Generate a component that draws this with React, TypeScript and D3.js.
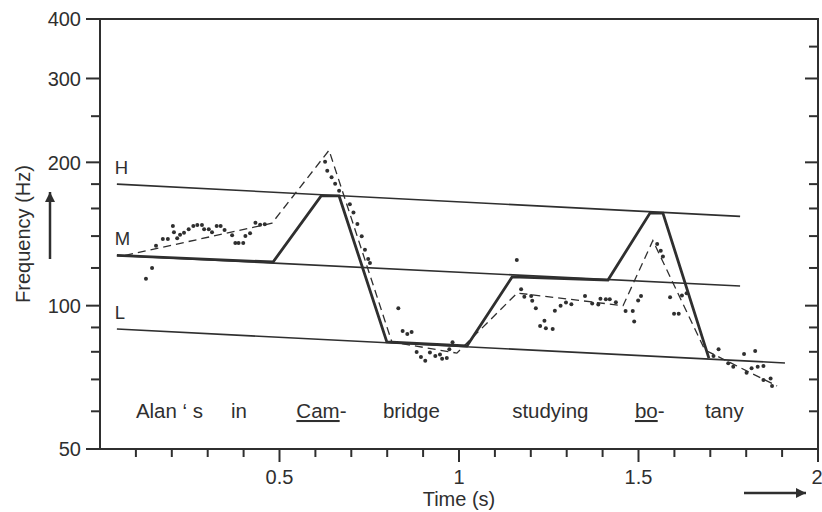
import { useEffect, useRef } from "react";
import * as d3 from "d3";

// register lines (H / M / L), start and end frequency in Hz
const registerNames = ["H", "M", "L"];
const registerStartT = [0.047, 0.047, 0.047];
const registerEndT = [1.783, 1.783, 1.908];
const registerStartF = [180, 127.5, 89.3];
const registerEndF = [154, 110, 75.8];

// stylised contour (bold)
const contourT = [0.047, 0.482, 0.616, 0.666, 0.799, 1.022, 1.148, 1.415, 1.532, 1.568, 1.696];
const contourF = [127.5, 123.5, 170, 170, 83.9, 82.3, 114.9, 113.2, 156.5, 156.5, 77.6];

// smoothed contour (dashed)
const smoothT = [0.07, 0.479, 0.638, 0.813, 0.994, 1.162, 1.457, 1.54, 1.685, 1.886];
const smoothF = [127.5, 149, 212, 83.9, 79.5, 106.3, 100, 137, 80.7, 67.8];

// measured F0 points
const dotT = [
  0.128, 0.145, 0.156, 0.175, 0.189, 0.203, 0.206, 0.215, 0.223, 0.234, 0.247, 0.26, 0.271, 0.284,
  0.29, 0.303, 0.312, 0.325, 0.336, 0.347, 0.368, 0.377, 0.386, 0.399, 0.405, 0.418, 0.433, 0.446,
  0.459, 0.627, 0.633, 0.645, 0.655, 0.666, 0.696, 0.706, 0.717, 0.729, 0.738, 0.747, 0.752, 0.831,
  0.843, 0.856, 0.868, 0.882, 0.894, 0.906, 0.919, 0.934, 0.947, 0.953, 0.966, 0.973, 0.982, 1.161,
  1.173, 1.182, 1.201, 1.204, 1.214, 1.238, 1.226, 1.242, 1.261, 1.267, 1.283, 1.298, 1.313, 1.351,
  1.371, 1.388, 1.394, 1.409, 1.42, 1.437, 1.464, 1.484, 1.488, 1.499, 1.507, 1.552, 1.562, 1.568,
  1.588, 1.599, 1.612, 1.621, 1.634, 1.709, 1.723, 1.75, 1.764, 1.794, 1.801, 1.815, 1.825, 1.832,
  1.848, 1.848, 1.868, 1.872,
];
const dotF = [
  113.9, 120, 133.6, 138, 138, 147, 142.6, 138.5, 140.9, 142.3, 144.7, 147, 147.7, 147.7, 144.7,
  144.7, 142.6, 147, 147, 144.2, 140.5, 135.4, 135.4, 135.4, 140.1, 141.9, 149.4, 147.9, 148.2,
  200.6, 192.1, 186.1, 180.3, 174.4, 163.3, 157, 148.4, 139.9, 131.1, 125.3, 122.9, 98.7, 88.5,
  87.2, 88, 79.9, 78, 76.6, 79.7, 78.4, 79, 77.4, 77.6, 81, 83.8, 124.7, 108.2, 104.4, 104.8,
  102.4, 98.7, 93, 90.6, 89.6, 89.3, 97.6, 100, 101.6, 100.7, 104.8, 101.1, 100.6, 103.4, 103.1,
  103.1, 101.7, 97.4, 97.4, 92.6, 102.5, 104.8, 134.7, 130.4, 126.9, 104.1, 96.2, 96.2, 105.1,
  106.2, 78.4, 81, 75.7, 74.4, 79.2, 72.3, 73.9, 80.3, 74.4, 74.7, 69.8, 70.3, 67.8,
];

// syllables under the contour (start time, text, underlined part, rest)
const syllableT = [0.1, 0.365, 0.547, 0.788, 1.148, 1.49, 1.685];
const syllableMain = ["Alan \u2018 s", "in", "Cam", "bridge", "studying", "bo", "tany"];
const syllableUnderlined = [false, false, true, false, false, true, false];
const syllableTail = ["", "", "-", "", "", "-", ""];

const yLabelTicks = [50, 100, 200, 300, 400];
const yMinorLeft = [60, 70, 80, 90, 120, 140, 160, 180, 250];
const yMajorRight = [100, 200, 300];
const yMinorRight = [60, 70, 80, 90, 120, 140, 160, 180, 250, 350];
const xMinorTicks = [0.1, 0.2, 0.3, 0.4, 0.6, 0.7, 0.8, 0.9, 1.1, 1.2, 1.3, 1.4, 1.6, 1.7, 1.8, 1.9];
const xLabelTicks = [0.5, 1, 1.5, 2];

const INK = "#2f2f2f";
const FONT = "'Liberation Sans', Arial, Helvetica, sans-serif";

const App = () => {
  const svgRef = useRef(null);

  useEffect(() => {
    const svg = d3.select(svgRef.current);
    svg.selectAll("*").remove();

    const left = 100;
    const right = 818;
    const top = 19;
    const bottom = 449;

    const x = d3.scaleLinear().domain([0, 2]).range([left, right]);
    const y = d3.scaleLog().domain([50, 400]).range([bottom, top]);

    const defs = svg.append("defs");
    defs
      .append("marker")
      .attr("id", "arrowHead")
      .attr("viewBox", "0 0 10 10")
      .attr("refX", 10)
      .attr("refY", 5)
      .attr("markerWidth", 10)
      .attr("markerHeight", 10)
      .attr("markerUnits", "userSpaceOnUse")
      .attr("orient", "auto")
      .append("path")
      .attr("d", "M0,0 L10,5 L0,10 Z")
      .attr("fill", INK);

    // frame
    svg
      .append("rect")
      .attr("x", left)
      .attr("y", top)
      .attr("width", right - left)
      .attr("height", bottom - top)
      .attr("fill", "none")
      .attr("stroke", INK)
      .attr("stroke-width", 2);

    // left ticks
    svg
      .selectAll(".ytick-major")
      .data(yLabelTicks)
      .enter()
      .append("line")
      .attr("x1", left - 14)
      .attr("x2", left)
      .attr("y1", (d) => y(d))
      .attr("y2", (d) => y(d))
      .attr("stroke", INK)
      .attr("stroke-width", 2);

    svg
      .selectAll(".ytick-minor")
      .data(yMinorLeft)
      .enter()
      .append("line")
      .attr("x1", left - 9)
      .attr("x2", left)
      .attr("y1", (d) => y(d))
      .attr("y2", (d) => y(d))
      .attr("stroke", INK)
      .attr("stroke-width", 2);

    svg
      .selectAll(".ylabel")
      .data(yLabelTicks)
      .enter()
      .append("text")
      .attr("x", left - 19)
      .attr("y", (d) => y(d))
      .attr("dy", "0.36em")
      .attr("text-anchor", "end")
      .attr("font-family", FONT)
      .attr("font-size", 20)
      .attr("fill", INK)
      .text((d) => d);

    // right ticks (inward)
    svg
      .selectAll(".rtick-major")
      .data(yMajorRight)
      .enter()
      .append("line")
      .attr("x1", right - 13)
      .attr("x2", right)
      .attr("y1", (d) => y(d))
      .attr("y2", (d) => y(d))
      .attr("stroke", INK)
      .attr("stroke-width", 2);

    svg
      .selectAll(".rtick-minor")
      .data(yMinorRight)
      .enter()
      .append("line")
      .attr("x1", right - 9)
      .attr("x2", right)
      .attr("y1", (d) => y(d))
      .attr("y2", (d) => y(d))
      .attr("stroke", INK)
      .attr("stroke-width", 2);

    // bottom ticks
    svg
      .selectAll(".xtick-minor")
      .data(xMinorTicks)
      .enter()
      .append("line")
      .attr("x1", (d) => x(d))
      .attr("x2", (d) => x(d))
      .attr("y1", bottom)
      .attr("y2", bottom + 8)
      .attr("stroke", INK)
      .attr("stroke-width", 2);

    svg
      .selectAll(".xtick-major")
      .data(xLabelTicks)
      .enter()
      .append("line")
      .attr("x1", (d) => x(d))
      .attr("x2", (d) => x(d))
      .attr("y1", bottom)
      .attr("y2", bottom + 13)
      .attr("stroke", INK)
      .attr("stroke-width", 2);

    svg
      .selectAll(".xlabel")
      .data(xLabelTicks)
      .enter()
      .append("text")
      .attr("x", (d) => (d === 2 ? x(d) - 1 : x(d)))
      .attr("y", bottom + 35)
      .attr("text-anchor", "middle")
      .attr("font-family", FONT)
      .attr("font-size", 20)
      .attr("fill", INK)
      .text((d) => d);

    // axis titles and arrows
    svg
      .append("text")
      .attr("x", (left + right) / 2)
      .attr("y", 506)
      .attr("text-anchor", "middle")
      .attr("font-family", FONT)
      .attr("font-size", 20)
      .attr("fill", INK)
      .text("Time (s)");

    svg
      .append("line")
      .attr("x1", 744)
      .attr("x2", 806)
      .attr("y1", 493)
      .attr("y2", 493)
      .attr("stroke", INK)
      .attr("stroke-width", 2.5)
      .attr("marker-end", "url(#arrowHead)");

    svg
      .append("text")
      .attr("transform", "translate(30,234) rotate(-90)")
      .attr("text-anchor", "middle")
      .attr("font-family", FONT)
      .attr("font-size", 20)
      .attr("fill", INK)
      .text("Frequency (Hz)");

    svg
      .append("line")
      .attr("x1", 50)
      .attr("x2", 50)
      .attr("y1", 259)
      .attr("y2", 192)
      .attr("stroke", INK)
      .attr("stroke-width", 2.5)
      .attr("marker-end", "url(#arrowHead)");

    // register lines
    const registers = registerNames.map((name, i) => ({
      name,
      t0: registerStartT[i],
      t1: registerEndT[i],
      f0: registerStartF[i],
      f1: registerEndF[i],
    }));

    svg
      .selectAll(".register")
      .data(registers)
      .enter()
      .append("line")
      .attr("x1", (d) => x(d.t0))
      .attr("x2", (d) => x(d.t1))
      .attr("y1", (d) => y(d.f0))
      .attr("y2", (d) => y(d.f1))
      .attr("stroke", INK)
      .attr("stroke-width", 1.6);

    svg
      .selectAll(".register-label")
      .data(registers)
      .enter()
      .append("text")
      .attr("x", (d) => x(d.t0) - 2)
      .attr("y", (d) => y(d.f0) - 10)
      .attr("font-family", FONT)
      .attr("font-size", 18.5)
      .attr("fill", INK)
      .text((d) => d.name);

    const line = d3
      .line()
      .x((d) => x(d[0]))
      .y((d) => y(d[1]));

    // dashed smoothed contour
    svg
      .append("path")
      .attr("d", line(smoothT.map((t, i) => [t, smoothF[i]])))
      .attr("fill", "none")
      .attr("stroke", INK)
      .attr("stroke-width", 1.3)
      .attr("stroke-dasharray", "8,5");

    // bold stylised contour
    svg
      .append("path")
      .attr("d", line(contourT.map((t, i) => [t, contourF[i]])))
      .attr("fill", "none")
      .attr("stroke", INK)
      .attr("stroke-width", 2.8)
      .attr("stroke-linejoin", "miter");

    // F0 dots
    svg
      .selectAll(".dot")
      .data(dotT.map((t, i) => [t, dotF[i]]))
      .enter()
      .append("circle")
      .attr("cx", (d) => x(d[0]))
      .attr("cy", (d) => y(d[1]))
      .attr("r", 2)
      .attr("fill", INK);

    // syllables
    const syl = svg
      .selectAll(".syllable")
      .data(syllableT.map((t, i) => ({ t, i })))
      .enter()
      .append("text")
      .attr("x", (d) => x(d.t))
      .attr("y", 418)
      .attr("font-family", FONT)
      .attr("font-size", 20.5)
      .attr("fill", INK);

    syl
      .append("tspan")
      .attr("text-decoration", (d) => (syllableUnderlined[d.i] ? "underline" : "none"))
      .text((d) => syllableMain[d.i]);

    syl
      .append("tspan")
      .text((d) => syllableTail[d.i]);
  }, []);

  return (
    <div style={{ position: "absolute", left: 0, top: 0 }}>
      <svg ref={svgRef} width={822} height={512} style={{ display: "block", background: "#fff" }}></svg>
    </div>
  );
};

export default App;
